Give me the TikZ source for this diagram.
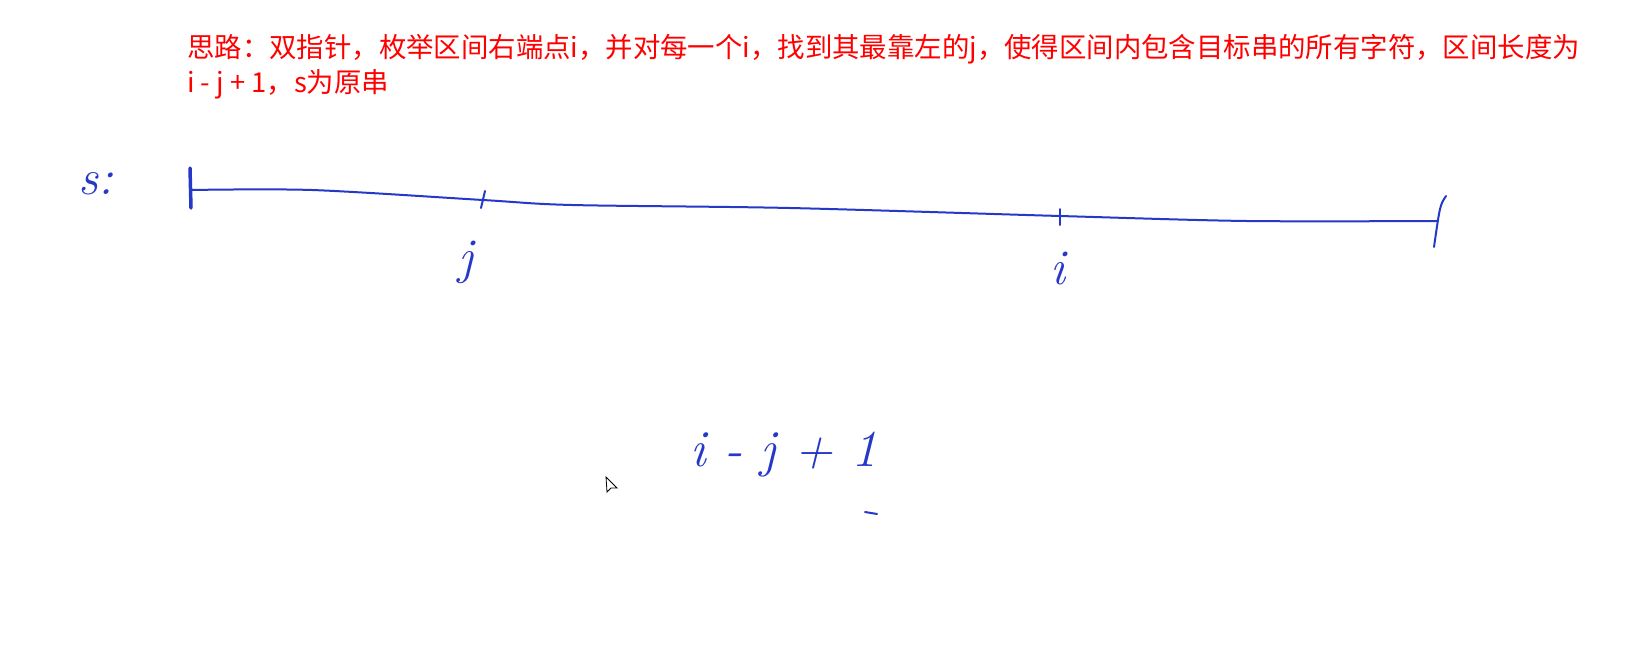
\documentclass[tikz,border=0pt]{standalone}
\usepackage{fontspec}
\newfontfamily\cjk{Noto Sans CJK SC}
\definecolor{InkBlue}{RGB}{38,56,200}
\definecolor{NoteRed}{RGB}{255,0,0}
\usetikzlibrary{positioning, calc}

\begin{document}
\begin{tikzpicture}[x=1pt, y=-1pt,
    hand/.style={InkBlue, line width=2pt, line cap=round, line join=round},
    handtext/.style={InkBlue, font=\fontsize{50}{50}\selectfont\itshape},
    note/.style={NoteRed, font=\cjk\fontsize{27.4}{35}\selectfont, anchor=north west, inner sep=0pt, align=left}]
  \useasboundingbox (0,0) rectangle (1630,654);

  % idea text
  \node[note] (idea) at (187,34) {思路：双指针，枚举区间右端点i，并对每一个i，找到其最靠左的j，使得区间内包含目标串的所有字符，区间长度为\\i - j + 1，s为原串};

  % string s
  \node[handtext] (s) at (96,184) {s:};
  \coordinate (sl) at (190,190);
  \coordinate (sr) at (1438,221);
  \draw[hand] plot[smooth] coordinates {(190,190) (312,190) (483,200) (572,205) (790,208) (1060,216) (1247,221) (1438,221)};
  \draw[hand, line width=3.5pt] ($(sl)+(0,-22)$) -- ($(sl)+(1,18)$);
  \draw[hand] ($(sr)+(8,-25)$) .. controls ($(sr)+(2,-16)$) .. ($(sr)+(-4,26)$);

  % pointer j
  \coordinate (tj) at (483,200);
  \draw[hand] ($(tj)+(2,-9)$) -- ($(tj)+(-2,8)$);
  \node[handtext] (j) at (466,262) {j};

  % pointer i
  \coordinate (ti) at (1060,216);
  \draw[hand] ($(ti)+(0,-7)$) -- ($(ti)+(0,9)$);
  \node[handtext] (i) at (1058,268) {i};

  % length
  \node[handtext, font=\fontsize{52}{52}\selectfont\itshape] (len) at (784,455) {i - j + 1};
  \draw[hand] (865,512) -- (877,514);

  % cursor
  \draw[black, fill=white, line width=0.8pt] (606,477) -- (607,492) -- (611,488) -- (617,488) -- cycle;
\end{tikzpicture}
\end{document}
